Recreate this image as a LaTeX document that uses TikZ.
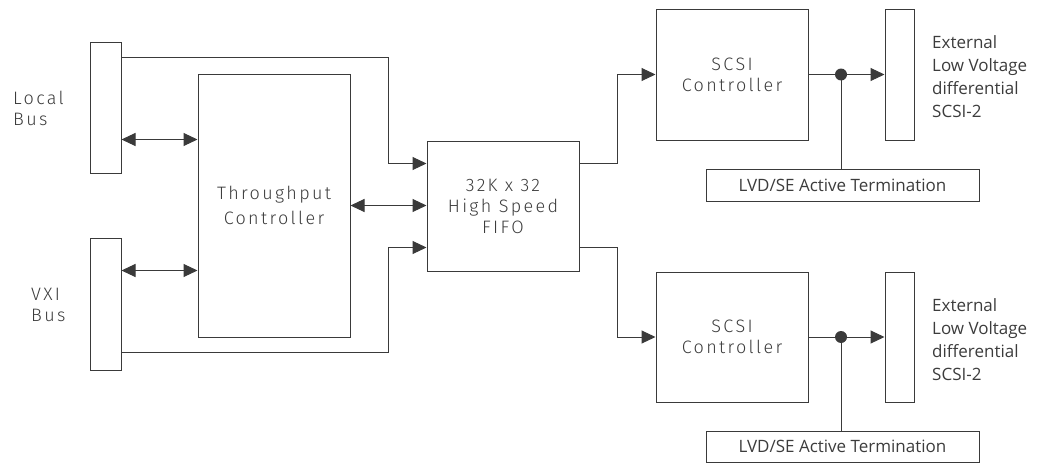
\documentclass[tikz,border=0pt]{standalone}
\usepackage{fontspec}
\usetikzlibrary{arrows.meta,calc}
\newfontfamily\cadfont{Fira Sans Light}[LetterSpace=13]
\newfontfamily\humfont{Open Sans}
\definecolor{ln}{HTML}{3A3A3A}
\definecolor{tx}{HTML}{3C3C3C}
\begin{document}
\begin{tikzpicture}[x=1pt,y=-1pt,
  box/.style={draw=ln,line width=1pt,rectangle,inner sep=0pt},
  cad/.style={font=\cadfont\fontsize{18}{21}\selectfont,text=tx,align=center},
  hum/.style={font=\humfont\fontsize{17}{23}\selectfont,text=tx},
  wire/.style={draw=ln,line width=1pt},
  arr/.style={wire,-{Triangle[length=14pt,width=13pt]}},
  biarr/.style={wire,{Triangle[length=14pt,width=13pt]}-{Triangle[length=14pt,width=13pt]}},
  dot/.style={circle,fill=ln,minimum size=12pt,inner sep=0pt}
]
\useasboundingbox (0,0) rectangle (1044,463);
% boxes
\node[box,minimum width=31pt,minimum height=131pt] (LB) at (105.5,107.5) {};
\node[box,minimum width=31pt,minimum height=132pt] (VB) at (105.5,304) {};
\node[box,cad,minimum width=152pt,minimum height=263pt] (TC) at (274,205.5) {Throughput\\[4pt]Controller};
\node[box,cad,minimum width=152pt,minimum height=130pt] (FIFO) at (503,206) {32K x 32\\High Speed\\FIFO};
\node[box,cad,minimum width=152pt,minimum height=131pt] (S1) at (732,74.5) {SCSI\\Controller};
\node[box,cad,minimum width=152pt,minimum height=130pt] (S2) at (732,337) {SCSI\\Controller};
\node[box,minimum width=29pt,minimum height=131pt] (E1) at (899.5,74.5) {};
\node[box,minimum width=29pt,minimum height=130pt] (E2) at (899.5,337) {};
\node[box,hum,minimum width=273pt,minimum height=32pt] (T1) at (842.5,185) {LVD/SE Active Termination};
\node[box,hum,minimum width=273pt,minimum height=31pt] (T2) at (842.5,446.5) {LVD/SE Active Termination};
% labels
\node[cad,align=left,anchor=west,inner sep=0pt] (LBL) at (13,108) {Local\\Bus};
\node[cad,align=left,anchor=west,inner sep=0pt] (VBL) at (31,305) {VXI\\Bus};
\node[hum,align=left,anchor=west,inner sep=0pt] (EL1) at (932,77) {External\\Low Voltage\\differential\\SCSI-2};
\node[hum,align=left,anchor=west,inner sep=0pt] (EL2) at (932,340) {External\\Low Voltage\\differential\\SCSI-2};
% dots
\node[dot] (D1) at (841,74.5) {};
\node[dot] (D2) at (841,337) {};
% connectors, left side
\draw[arr] ([yshift=-16pt]LB.north east) -- ++(267,0) |- ([yshift=-23pt]FIFO.north west);
\draw[biarr] ([yshift=-98pt]LB.north east) coordinate (p1) -- (p1 -| TC.west);
\draw[biarr] ([yshift=-33pt]VB.north east) coordinate (p2) -- (p2 -| TC.west);
\draw[arr] ([yshift=-115pt]VB.north east) -- ++(267,0) |- ([yshift=24pt]FIFO.south west);
\draw[biarr] (TC.east) -- (TC.east -| FIFO.west);
% right side
\draw[arr] ([yshift=-23pt]FIFO.north east) -- ++(38,0) |- (S1.west);
\draw[arr] ([yshift=24pt]FIFO.south east) -- ++(38,0) |- (S2.west);
\draw[wire] (S1.east) -- (D1.center);
\draw[arr] (D1.center) -- (E1.west);
\draw[wire] (D1.center) -- (D1 |- T1.north);
\draw[wire] (S2.east) -- (D2.center);
\draw[arr] (D2.center) -- (E2.west);
\draw[wire] (D2.center) -- (D2 |- T2.north);
\end{tikzpicture}
\end{document}
